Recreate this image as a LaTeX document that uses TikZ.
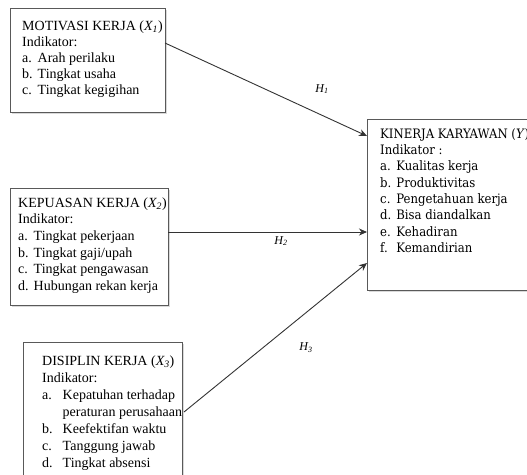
\documentclass[tikz,border=0pt]{standalone}
\usepackage{fontspec}
\setmainfont{Liberation Serif}
\newfontfamily\kfont{DejaVu Serif Condensed}
\usetikzlibrary{arrows.meta,shadows}
\begin{document}
\begin{tikzpicture}[x=1pt,y=-1pt,
  boxshape/.style={draw=black!65, line width=0.9pt, fill=white, rectangle, inner sep=0pt, anchor=north west,
    drop shadow={shadow xshift=1.5pt, shadow yshift=-1.5pt, opacity=0.3}},
  conn/.style={draw=black!80, line width=0.9pt},
  arr/.style={conn, -{Stealth[length=8pt,width=7pt,inset=2.5pt]}},
  txt/.style={anchor=north west, inner sep=0pt, align=left},
  hlab/.style={font=\fontsize{12}{14}\selectfont\itshape, inner sep=0pt}
]
\path[use as bounding box] (0,0) rectangle (527,474);
\clip (0,0) rectangle (527,474);

% boxes
\node[boxshape, minimum width=155pt, minimum height=104pt] (m) at (10,8) {};
\node[boxshape, minimum width=158pt, minimum height=117pt] (k) at (10,188) {};
\node[boxshape, minimum width=159pt, minimum height=150pt] (d) at (23,342) {};
\node[boxshape, minimum width=200pt, minimum height=171pt] (y) at (367,119) {};

% texts
\node[txt, font=\fontsize{14}{16}\selectfont] (mt) at (22,19) {\begin{tabular}{@{}l@{\hspace{5pt}}l@{}}
\multicolumn{2}{@{}l@{}}{MOTIVASI KERJA (\textit{X\textsubscript{1}})}\\
\multicolumn{2}{@{}l@{}}{Indikator:}\\
a. & Arah perilaku\\
b. & Tingkat usaha\\
c. & Tingkat kegigihan
\end{tabular}};

\node[txt, font=\fontsize{14}{16.6}\selectfont] (kt) at (18,195.4) {\begin{tabular}{@{}l@{\hspace{5pt}}l@{}}
\multicolumn{2}{@{}l@{}}{KEPUASAN KERJA (\textit{X\textsubscript{2}})}\\
\multicolumn{2}{@{}l@{}}{Indikator:}\\
a. & Tingkat pekerjaan\\
b. & Tingkat gaji/upah\\
c. & Tingkat pengawasan\\
d. & Hubungan rekan kerja
\end{tabular}};

\node[txt, font=\fontsize{14}{17}\selectfont] (dt) at (42,353) {\begin{tabular}{@{}l@{\hspace{10pt}}l@{}}
\multicolumn{2}{@{}l@{}}{DISIPLIN KERJA (\textit{X\textsubscript{3}})}\\
\multicolumn{2}{@{}l@{}}{Indikator:}\\
a. & Kepatuhan terhadap\\
   & peraturan perusahaan\\
b. & Keefektifan waktu\\
c. & Tanggung jawab\\
d. & Tingkat absensi
\end{tabular}};

\node[txt, font=\kfont\fontsize{13}{16.3}\selectfont] (yt) at (380,126.6) {\begin{tabular}{@{}l@{\hspace{5pt}}l@{}}
\multicolumn{2}{@{}l@{}}{KINERJA KARYAWAN (\textit{Y})}\\
\multicolumn{2}{@{}l@{}}{Indikator :}\\
a. & Kualitas kerja\\
b. & Produktivitas\\
c. & Pengetahuan kerja\\
d. & Bisa diandalkan\\
e. & Kehadiran\\
f. & Kemandirian
\end{tabular}};

% connector end points
\coordinate (s1) at (165,43);
\coordinate (e1) at (367,136);
\coordinate (s2) at (168,232);
\coordinate (e2) at (367,232);
\coordinate (s3) at (184,412);
\coordinate (e3) at (367,263);

\draw[arr] (s1) -- (e1);
\draw[arr] (s2) -- (e2);
\draw[arr] (s3) -- (e3);

\node[hlab] (h1) at (322,89) {H\textsubscript{1}};
\node[hlab] (h2) at (281,241) {H\textsubscript{2}};
\node[hlab] (h3) at (306,348) {H\textsubscript{3}};
\end{tikzpicture}
\end{document}
